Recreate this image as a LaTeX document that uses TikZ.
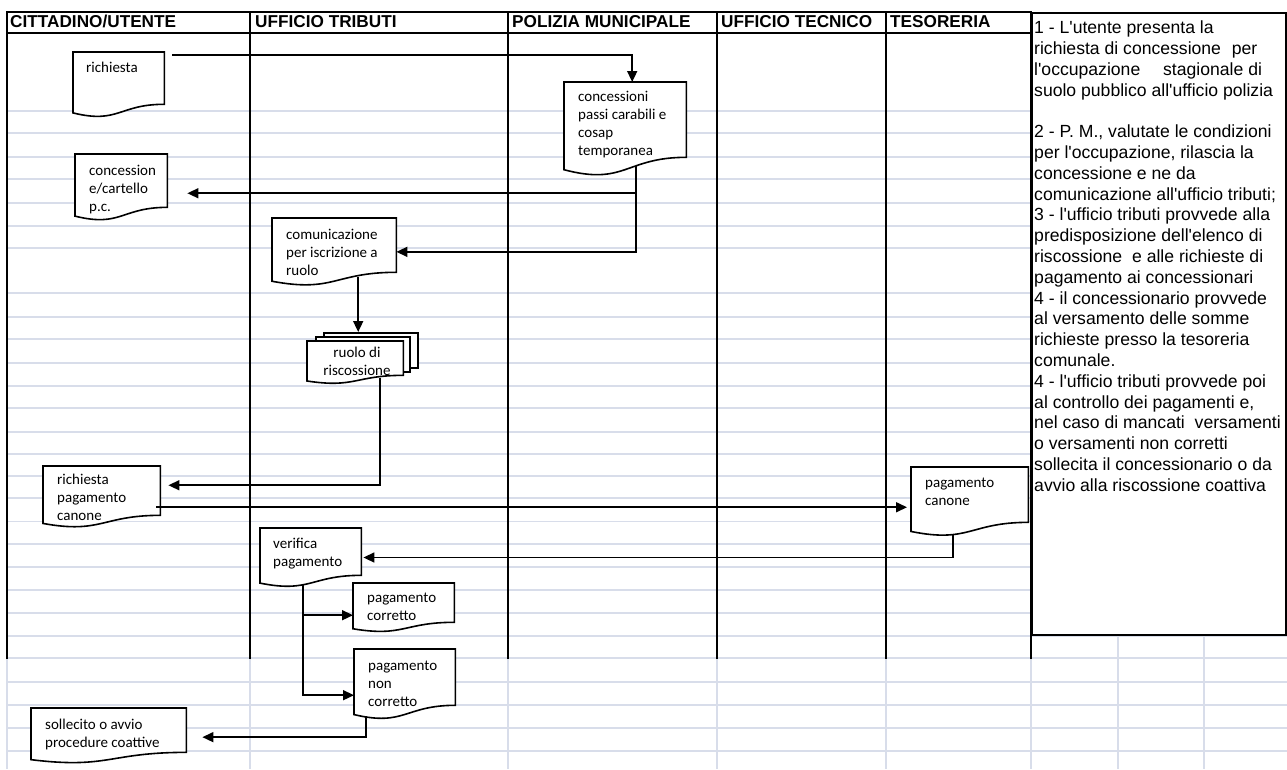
\documentclass[tikz,border=0pt]{standalone}
\usepackage{fontspec}
\setmainfont{Liberation Sans}
\newfontfamily\docfont{Carlito}
\usetikzlibrary{calc,arrows.meta}
\definecolor{gridc}{RGB}{216,221,234}
\newcommand\apo{\textquotesingle}
\newcommand\docpath[1]{%
  \filldraw[docline] (#1.north west) -- (#1.north east)
   -- ($(#1.north east)!0.802!(#1.south east)$)
   .. controls ($(#1.north)!0.802!(#1.south)$) and ($(#1.north)!1.107!(#1.south)$)
   .. ($(#1.north west)!0.934!(#1.south west)$) -- cycle;}
\begin{document}
\begin{tikzpicture}[x=1pt,y=-1pt,
  lane/.style={line width=1.8pt, line cap=rect},
  gridl/.style={draw=gridc, line width=1.9pt},
  docline/.style={draw=black, fill=white, line width=1.6pt, line join=miter},
  docnode/.style={rectangle, inner sep=0pt, anchor=north west, draw=none},
  backpage/.style={rectangle, inner sep=0pt, anchor=north west, draw=black, fill=white, line width=1.6pt},
  doctext/.style={font=\docfont\fontsize{15}{18}\selectfont, align=left, inner sep=0pt, anchor=north west},
  hdr/.style={font=\bfseries\fontsize{17.2}{20}\selectfont, inner sep=0pt, anchor=base west},
  arr/.style={line width=1.6pt, -{Triangle[length=11pt,width=10pt]}},
]
\useasboundingbox (0,0) rectangle (1287,769);
% spreadsheet grid
\foreach \y in {111,133,157,179,203,226,248,293,317,339,363,386,408,432,454,476,498,521.5,544,567,590,613}
  \draw[gridl] (7,\y) -- (1031,\y);
\foreach \y in {636,658,682,705,728,751}
  \draw[gridl] (7,\y) -- (1287,\y);
\foreach \x in {7,250,508,717,886,1031}
  \draw[gridl] (\x,658) -- (\x,769);
\foreach \x in {1118,1204}
  \draw[gridl] (\x,636) -- (\x,769);
% swimlanes
\foreach \x in {7,250,508,717,886,1031}
  \draw[lane] (\x,12) -- (\x,658);
\draw[lane] (7,12) -- (1031,12);
\draw[lane] (7,33) -- (1031,33);
\node[hdr] (h1) at (10,27) {CITTADINO/UTENTE};
\node[hdr] (h2) at (255,27) {UFFICIO TRIBUTI};
\node[hdr] (h3) at (512,27) {POLIZIA MUNICIPALE};
\node[hdr] (h4) at (721,27) {UFFICIO TECNICO};
\node[hdr] (h5) at (890,27) {TESORERIA};
% notes box
\node[rectangle, draw, fill=white, line width=1.8pt, inner sep=0pt, anchor=north west,
      minimum width=254pt, minimum height=622pt] (notes) at (1031,12) {};
\node[font=\fontsize{17.6}{20.8}\selectfont, align=left, inner sep=0pt, anchor=north west] (notes-t) at (1034,18.94) {\strut 1 - L\apo utente presenta la\\
richiesta di concessione\hspace{6pt} per\\
l\apo occupazione\hspace{18pt} stagionale di\\
suolo pubblico all\apo ufficio polizia\\[20.8pt]
2 - P. M., valutate le condizioni\\
per l\apo occupazione, rilascia la\\
concessione e ne da\\
comunicazione all\apo ufficio tributi;\\
3 - l\apo ufficio tributi provvede alla\\
predisposizione dell\apo elenco di\\
riscossione\hspace{5pt} e alle richieste di\\
pagamento ai concessionari\\
4 - il concessionario provvede\\
al versamento delle somme\\
richieste presso la tesoreria\\
comunale.\\
4 - l\apo ufficio tributi provvede poi\\
al controllo dei pagamenti e,\\
nel caso di mancati\hspace{5pt} versamenti\\
o versamenti non corretti\\
sollecita il concessionario o da\\
avvio alla riscossione coattiva};
% documents
\node[docnode, minimum width=91pt, minimum height=64.8pt] (richiesta) at (73,52) {};
\docpath{richiesta}
\node[docnode, minimum width=122pt, minimum height=93.5pt] (concessioni) at (564,82) {};
\docpath{concessioni}
\node[docnode, minimum width=92pt, minimum height=66.1pt] (cartello) at (75,154) {};
\docpath{cartello}
\node[docnode, minimum width=124pt, minimum height=67.3pt] (comunicazione) at (272,218) {};
\docpath{comunicazione}
\node[backpage, minimum width=94pt, minimum height=35pt] (ruolo3) at (323,332) {};
\node[backpage, minimum width=94pt, minimum height=35pt] (ruolo2) at (315,336) {};
\node[docnode, minimum width=96pt, minimum height=42.4pt] (ruolo) at (307,341) {};
\docpath{ruolo}
\node[docnode, minimum width=117pt, minimum height=61.1pt] (richpag) at (43,466) {};
\docpath{richpag}
\node[docnode, minimum width=117pt, minimum height=68.6pt] (pagcanone) at (911,467) {};
\docpath{pagcanone}
\node[docnode, minimum width=101pt, minimum height=58.6pt] (verifica) at (260,528) {};
\docpath{verifica}
\node[docnode, minimum width=101pt, minimum height=48.6pt] (corretto) at (353,583) {};
\docpath{corretto}
\node[docnode, minimum width=101pt, minimum height=69.8pt] (noncorretto) at (354,649) {};
\docpath{noncorretto}
\node[docnode, minimum width=155pt, minimum height=54.9pt] (sollecito) at (31,708) {};
\docpath{sollecito}
% document texts
\node[doctext] (richiesta-t) at (86,59.9) {\strut richiesta};
\node[doctext] (concessioni-t) at (578,88.9) {\strut concessioni\\passi carabili e\\cosap\\temporanea};
\node[doctext] (cartello-t) at (89,162.9) {\strut concession\\e/cartello\\p.c.};
\node[doctext] (comunicazione-t) at (286,226.9) {\strut comunicazione\\per iscrizione a\\ruolo};
\node[doctext, align=center, anchor=north] (ruolo-t) at (357,344.9) {\strut ruolo di\\riscossione};
\node[doctext] (richpag-t) at (57,471.9) {\strut richiesta\\pagamento\\canone};
\node[doctext] (pagcanone-t) at (925,474.9) {\strut pagamento\\canone};
\node[doctext] (verifica-t) at (273,535.9) {\strut verifica\\pagamento};
\node[doctext] (corretto-t) at (367,589.9) {\strut pagamento\\corretto};
\node[doctext] (noncorretto-t) at (368,657.9) {\strut pagamento\\non\\corretto};
\node[doctext] (sollecito-t) at (45,716.9) {\strut sollecito o avvio\\procedure coattive};
% connectors
\draw[arr] ($(richiesta.north east)+(8,3)$) -| ($(concessioni.north)+(7,0)$);
\coordinate (cb) at ($(concessioni.south)+(11,-10)$);
\draw[arr] (cb) |- ($(cartello.east)+(20,6)$);
\draw[arr] (cb) |- (comunicazione.east);
\coordinate (cs) at ($(comunicazione.south)+(24,-9)$);
\draw[arr] (cs) -- (cs |- ruolo3.north);
\draw[arr] ($(ruolo.south)+(25,-6)$) |- ($(richpag.east)+(8,-11.5)$);
\coordinate (r1) at ($(richpag.east)+(-4,10.5)$);
\draw[arr] (r1) -- ($(r1 -| pagcanone.west)+(-4,0)$);
\draw[arr] ($(pagcanone.south)+(-16.5,-1.5)$) |- ($(verifica.east)+(2,0)$);
\coordinate (vs) at ($(verifica.south)+(-7.5,-2)$);
\draw[arr] (vs) |- ($(corretto.west)+(0,7.7)$);
\draw[arr] (vs) |- ($(noncorretto.west)+(0,11.1)$);
\draw[arr] ($(noncorretto.south)+(-38.5,-3)$) |- ($(sollecito.east)+(16,1.5)$);
\end{tikzpicture}
\end{document}
